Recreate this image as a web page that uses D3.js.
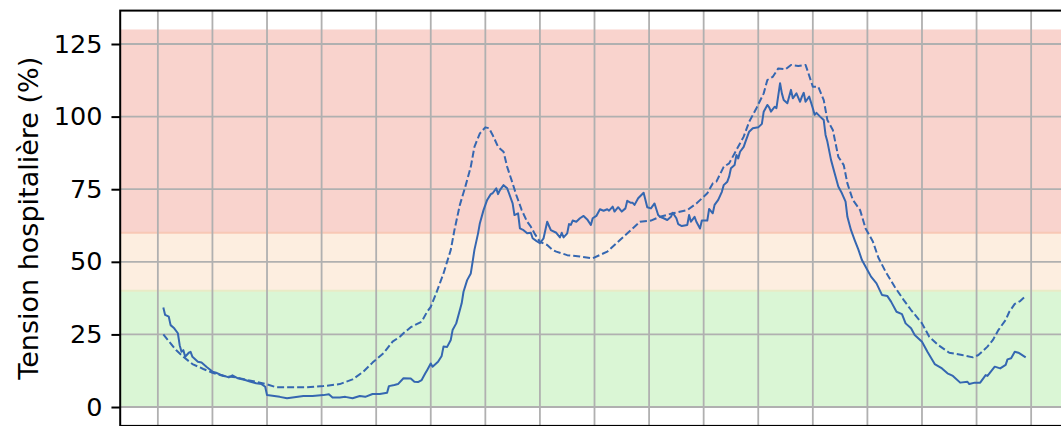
<!DOCTYPE html>
<html><head><meta charset="utf-8">
<script src="https://cdn.jsdelivr.net/npm/d3@7"></script>
<style>html,body{margin:0;padding:0;background:#fff;overflow:hidden}</style>
</head><body>
<svg id="chart" width="1061" height="426"></svg>
<script>
// ---- data (day index, tension %) ----
const solidDays = [0,1,3,4,6,8,9,10,11,12,14,15,16,19,21,24,27,29,32,36,38,41,45,48,51,54,56,57,60,64,68,71,77,82,88,91,93,97,100,104,108,111,115,119,123,124,127,129,132,136,138,140,142,144,145,147,148,151,153,154,156,158,159,161,163,164,165,167,169,170,171,173,174,176,178,180,181,183,184,185,187,189,190,192,193,195,196,198,200,202,203,205,207,209,211,213,216,218,219,220,222,223,224,225,227,229,231,233,235,236,238,240,242,244,245,247,248,250,252,254,255,257,258,259,261,264,265,266,268,270,272,273,275,277,279,280,282,283,285,288,289,290,292,293,295,296,299,300,302,303,305,307,308,310,311,312,314,315,316,317,319,320,322,323,324,327,329,330,332,333,334,336,337,339,340,341,343,345,346,348,350,351,352,353,355,357,358,359,361,363,364,365,367,369,371,373,375,376,378,380,382,384,387,389,392,395,398,400,403,406,408,411,413,417,420,424,428,431,434,438,442,443,446,449,452,453,457,460,463,464,466,468,470,474];
const solidValues = [34.3,31.7,31.1,28.2,27.1,25.4,21.3,19.0,19.6,17.3,18.7,19.0,17.3,15.6,15.3,13.7,12.2,11.8,11.0,10.2,10.9,9.9,9.3,8.7,8.2,7.9,7.0,4.1,3.9,3.5,3.0,3.3,3.8,3.8,4.1,4.4,3.3,3.3,3.5,3.0,3.8,3.5,4.5,4.5,4.9,7.2,7.6,7.9,9.9,9.8,8.7,8.6,9.3,11.6,12.7,15.0,13.9,15.6,17.6,20.8,20.7,23.1,26.5,28.8,33.4,35.7,39.7,43.7,46.0,50.0,54.1,59.8,63.3,67.8,71.3,73.3,73.6,75.3,73.3,74.7,76.4,75.3,73.6,70.1,66.1,66.7,61.5,60.9,59.8,60.0,58.1,57.2,56.4,58.1,63.8,60.9,60.0,58.4,60.0,58.4,59.8,63.0,62.7,64.2,63.8,65.0,65.8,64.6,62.7,65.0,65.8,68.1,67.6,68.1,67.6,69.0,67.3,68.8,67.3,68.4,71.0,70.3,70.3,69.6,71.9,73.8,71.3,68.8,68.4,70.1,66.1,65.5,65.0,64.4,65.5,66.9,65.0,63.0,62.3,62.7,66.1,63.8,65.5,63.8,61.5,64.2,64.2,68.2,66.7,69.6,71.3,74.1,76.4,77.6,79.3,82.2,83.3,86.8,85.6,87.9,89.6,91.4,94.8,95.4,96.0,96.3,97.5,101.7,104.0,103.2,101.7,103.4,102.9,111.5,108.0,105.7,104.6,109.2,106.3,108.0,105.1,106.9,108.2,105.1,106.9,102.9,100.6,101.3,100.0,98.8,93.7,91.4,85.1,80.5,75.9,73.6,70.7,65.5,60.9,57.5,54.3,50.6,47.2,44.9,42.6,38.6,38.2,36.3,32.8,32.0,28.8,27.1,24.8,22.5,19.0,14.8,13.3,11.6,10.7,8.4,8.7,7.9,8.4,8.4,11.0,10.7,13.9,13.3,14.5,16.4,16.8,19.0,18.7,17.1];
const dashedDays = [0,4,7,11,16,22,27,33,40,46,51,57,62,70,79,88,97,104,110,115,121,126,130,132,136,142,145,147,150,154,158,160,163,166,169,171,174,177,179,181,184,187,189,192,194,197,200,202,204,207,211,214,216,222,229,236,244,251,257,262,268,273,280,288,293,297,299,302,304,308,311,315,319,322,326,330,332,335,338,342,345,349,353,354,357,360,363,365,368,371,374,376,379,383,386,390,393,397,402,407,411,417,421,426,432,439,445,448,453,456,459,463,465,468,471,474];
const dashedValues = [25.0,21.9,19.6,17.3,14.8,13.1,11.8,10.7,10.2,9.3,8.7,7.8,6.8,6.8,6.8,7.2,7.9,9.5,12.2,15.3,18.5,22.5,24.2,25.4,27.5,29.4,32.8,34.5,39.2,46.0,54.1,60.9,69.6,75.9,82.7,89.6,94.2,96.3,96.0,93.7,89.6,87.9,82.7,77.0,73.0,67.8,63.8,62.1,59.8,56.9,55.8,54.1,53.5,52.3,51.8,51.2,53.5,57.5,60.9,63.8,64.2,65.5,66.7,67.8,70.1,72.4,73.6,77.0,77.6,82.7,83.9,88.5,93.1,98.2,102.9,108.0,112.6,113.7,116.6,116.3,117.8,117.4,117.8,116.0,110.3,110.3,105.7,98.8,95.4,86.2,83.3,77.0,71.3,67.8,61.5,57.0,51.5,46.6,41.4,36.8,33.4,28.8,24.2,21.3,18.7,17.9,17.1,17.9,20.8,23.1,26.5,30.0,32.8,35.5,36.5,38.2];
const bandLows = [0, 40, 60];
const bandHighs = [40, 60, 130];
const bandColors = ["#daf6d5", "#fdeee0", "#f9d3cd"];
const yTickValues = [0, 25, 50, 75, 100, 125];
const xTickValues = [-3, 27, 57, 87, 117, 147, 177, 207, 237, 267, 297, 327, 357, 387, 417, 447, 477];
const yLabel = "Tension hospitalière (%)";

// ---- layout ----
const svg = d3.select("#chart");
const L = 120.2, R = 1068.8, T = 10.6, B = 425.9;
const xMin = d3.min(solidDays), xMax = d3.max(solidDays);
const xPad = 0.05 * (xMax - xMin);
const x = d3.scaleLinear().domain([xMin - xPad, xMax + xPad]).range([L, R]);
const yLo = d3.min(bandLows), yHi = d3.max(bandHighs);
const yPad = 0.05 * (yHi - yLo);
const y = d3.scaleLinear().domain([yLo - yPad, yHi + yPad]).range([B, T]);

svg.append("defs").append("clipPath").attr("id", "clip")
  .append("rect").attr("x", L).attr("y", T).attr("width", R - L).attr("height", B - T);
const plot = svg.append("g").attr("clip-path", "url(#clip)");

// bands
plot.selectAll("rect.band").data(bandLows.map((lo, i) => ({lo, hi: bandHighs[i], c: bandColors[i]})))
  .join("rect").attr("class", "band")
  .attr("x", L).attr("width", R - L)
  .attr("y", d => y(d.hi)).attr("height", d => y(d.lo) - y(d.hi))
  .attr("fill", d => d.c);
// band boundary edges
const edgeColors = {40: "#e8ebc6", 60: "#f8c8b6"};
[40, 60].forEach(v => {
  plot.append("line").attr("x1", L).attr("x2", R).attr("y1", y(v)).attr("y2", y(v))
    .attr("stroke", edgeColors[v]).attr("stroke-width", 2);
});

// grid
plot.selectAll("line.vg").data(xTickValues).join("line").attr("class", "vg")
  .attr("x1", d => x(d)).attr("x2", d => x(d)).attr("y1", T).attr("y2", B)
  .attr("stroke", "#b0b0b0").attr("stroke-width", 1.8);
plot.selectAll("line.hg").data(yTickValues).join("line").attr("class", "hg")
  .attr("y1", d => y(d)).attr("y2", d => y(d)).attr("x1", L).attr("x2", R)
  .attr("stroke", "#b0b0b0").attr("stroke-width", 1.8);

// lines
const lineColor = "#3567b1";
const line = d3.line().x(d => x(d[0])).y(d => y(d[1]));
plot.append("path").datum(dashedDays.map((d, i) => [d, dashedValues[i]]))
  .attr("d", line).attr("fill", "none").attr("stroke", lineColor)
  .attr("stroke-width", 2).attr("stroke-dasharray", "7,3").attr("stroke-linejoin", "round");
plot.append("path").datum(solidDays.map((d, i) => [d, solidValues[i]]))
  .attr("d", line).attr("fill", "none").attr("stroke", lineColor)
  .attr("stroke-width", 2).attr("stroke-linejoin", "round");

// axes
const yAxis = svg.append("g").attr("transform", `translate(${L},0)`)
  .call(d3.axisLeft(y).tickValues(yTickValues).tickSize(8.75).tickPadding(9).tickSizeOuter(0));
yAxis.select(".domain").remove();
yAxis.selectAll(".tick line").attr("stroke", "#000").attr("stroke-width", 2);
yAxis.selectAll(".tick text").attr("font-family", "DejaVu Sans").attr("font-size", 25.5).attr("fill", "#000");

const xAxis = svg.append("g").attr("transform", `translate(0,${B})`)
  .call(d3.axisBottom(x).tickValues(xTickValues).tickSize(8.75).tickFormat("").tickSizeOuter(0));
xAxis.select(".domain").remove();
xAxis.selectAll(".tick line").attr("stroke", "#000").attr("stroke-width", 2);

// spines
svg.append("rect").attr("x", L).attr("y", T).attr("width", R - L).attr("height", B - T)
  .attr("fill", "none").attr("stroke", "#000").attr("stroke-width", 2);

// y label
svg.append("text").attr("transform", `translate(37.5,${(T + B) / 2}) rotate(-90)`)
  .attr("text-anchor", "middle").attr("font-family", "DejaVu Sans").attr("font-size", 27)
  .attr("fill", "#000").text(yLabel);
</script>
</body></html>
